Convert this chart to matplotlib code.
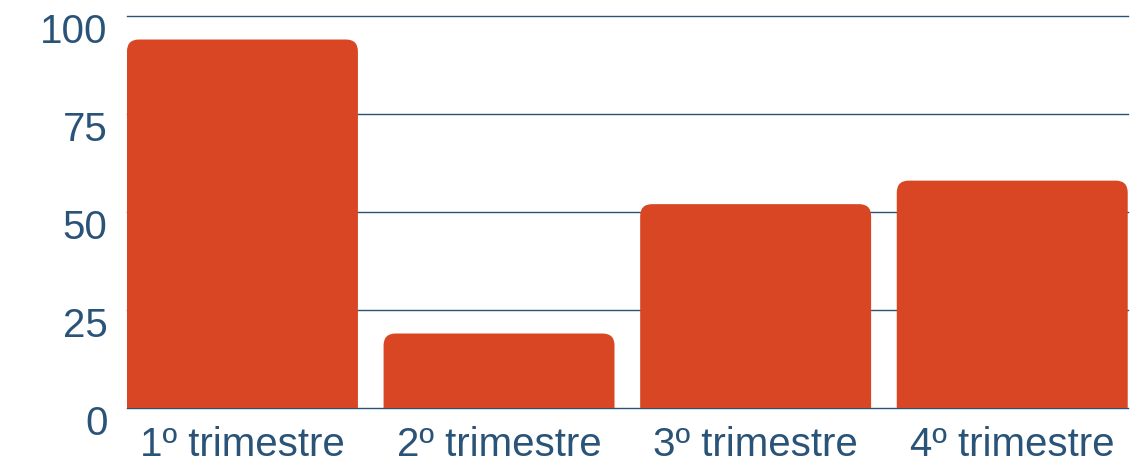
import matplotlib
matplotlib.use("Agg")
import matplotlib.pyplot as plt
from matplotlib.path import Path
from matplotlib.patches import PathPatch
from matplotlib.transforms import ScaledTranslation

quarters = ["1º trimestre", "2º trimestre", "3º trimestre", "4º trimestre"]
values = [94, 19, 52, 58]
y_ticks = [0, 25, 50, 75, 100]

BAR_COLOR = "#D84624"
TEXT_COLOR = "#2A5378"
BAR_WIDTH = 0.9

plt.rcParams["font.family"] = ["Liberation Sans", "DejaVu Sans"]

fig = plt.figure(figsize=(11.45, 4.65), dpi=100)
ax = fig.add_axes([0.1109, 0.1226, 0.874, 0.843])

bars = ax.bar(range(len(values)), values, width=BAR_WIDTH, color=BAR_COLOR, zorder=2)
ax.set_xlim(-BAR_WIDTH / 2, len(values) - 1 + BAR_WIDTH / 2)
ax.set_ylim(0, 100)


def round_top(rect, rx, ry):
    # replace a plain bar with one whose top corners are rounded
    x0, y0 = rect.get_x(), rect.get_y()
    x1, y1 = x0 + rect.get_width(), y0 + rect.get_height()
    verts = [(x0, y0), (x0, y1 - ry), (x0, y1), (x0 + rx, y1),
             (x1 - rx, y1), (x1, y1), (x1, y1 - ry), (x1, y0), (x0, y0)]
    codes = [Path.MOVETO, Path.LINETO, Path.CURVE3, Path.CURVE3,
             Path.LINETO, Path.CURVE3, Path.CURVE3, Path.LINETO, Path.CLOSEPOLY]
    return PathPatch(Path(verts, codes), facecolor=rect.get_facecolor(),
                     edgecolor="none", zorder=2)


# corner radius ~12 px, expressed in data units of each axis
xmin, xmax = ax.get_xlim()
px_x = (xmax - xmin) / (0.874 * 1145)
px_y = 100 / (0.843 * 465)
for rect in bars:
    rect.set_visible(False)
    ax.add_patch(round_top(rect, 12 * px_x, 12 * px_y))

ax.set_yticks(y_ticks)
ax.set_xticks(range(len(quarters)))
ax.set_xticklabels(quarters)
ax.grid(axis="y", color=TEXT_COLOR, linewidth=1.0, zorder=0)
ax.set_axisbelow(True)
for gl in ax.yaxis.get_gridlines():
    gl.set_clip_on(False)
for s in ax.spines.values():
    s.set_visible(False)
ax.tick_params(axis="both", length=0, labelsize=29, labelcolor=TEXT_COLOR)
ax.tick_params(axis="y", pad=14)
ax.tick_params(axis="x", pad=13)

offset = ScaledTranslation(0, -12 / 100, fig.dpi_scale_trans)
for lbl in ax.get_yticklabels():
    lbl.set_transform(lbl.get_transform() + offset)

fig.savefig("out.png", dpi=100)
